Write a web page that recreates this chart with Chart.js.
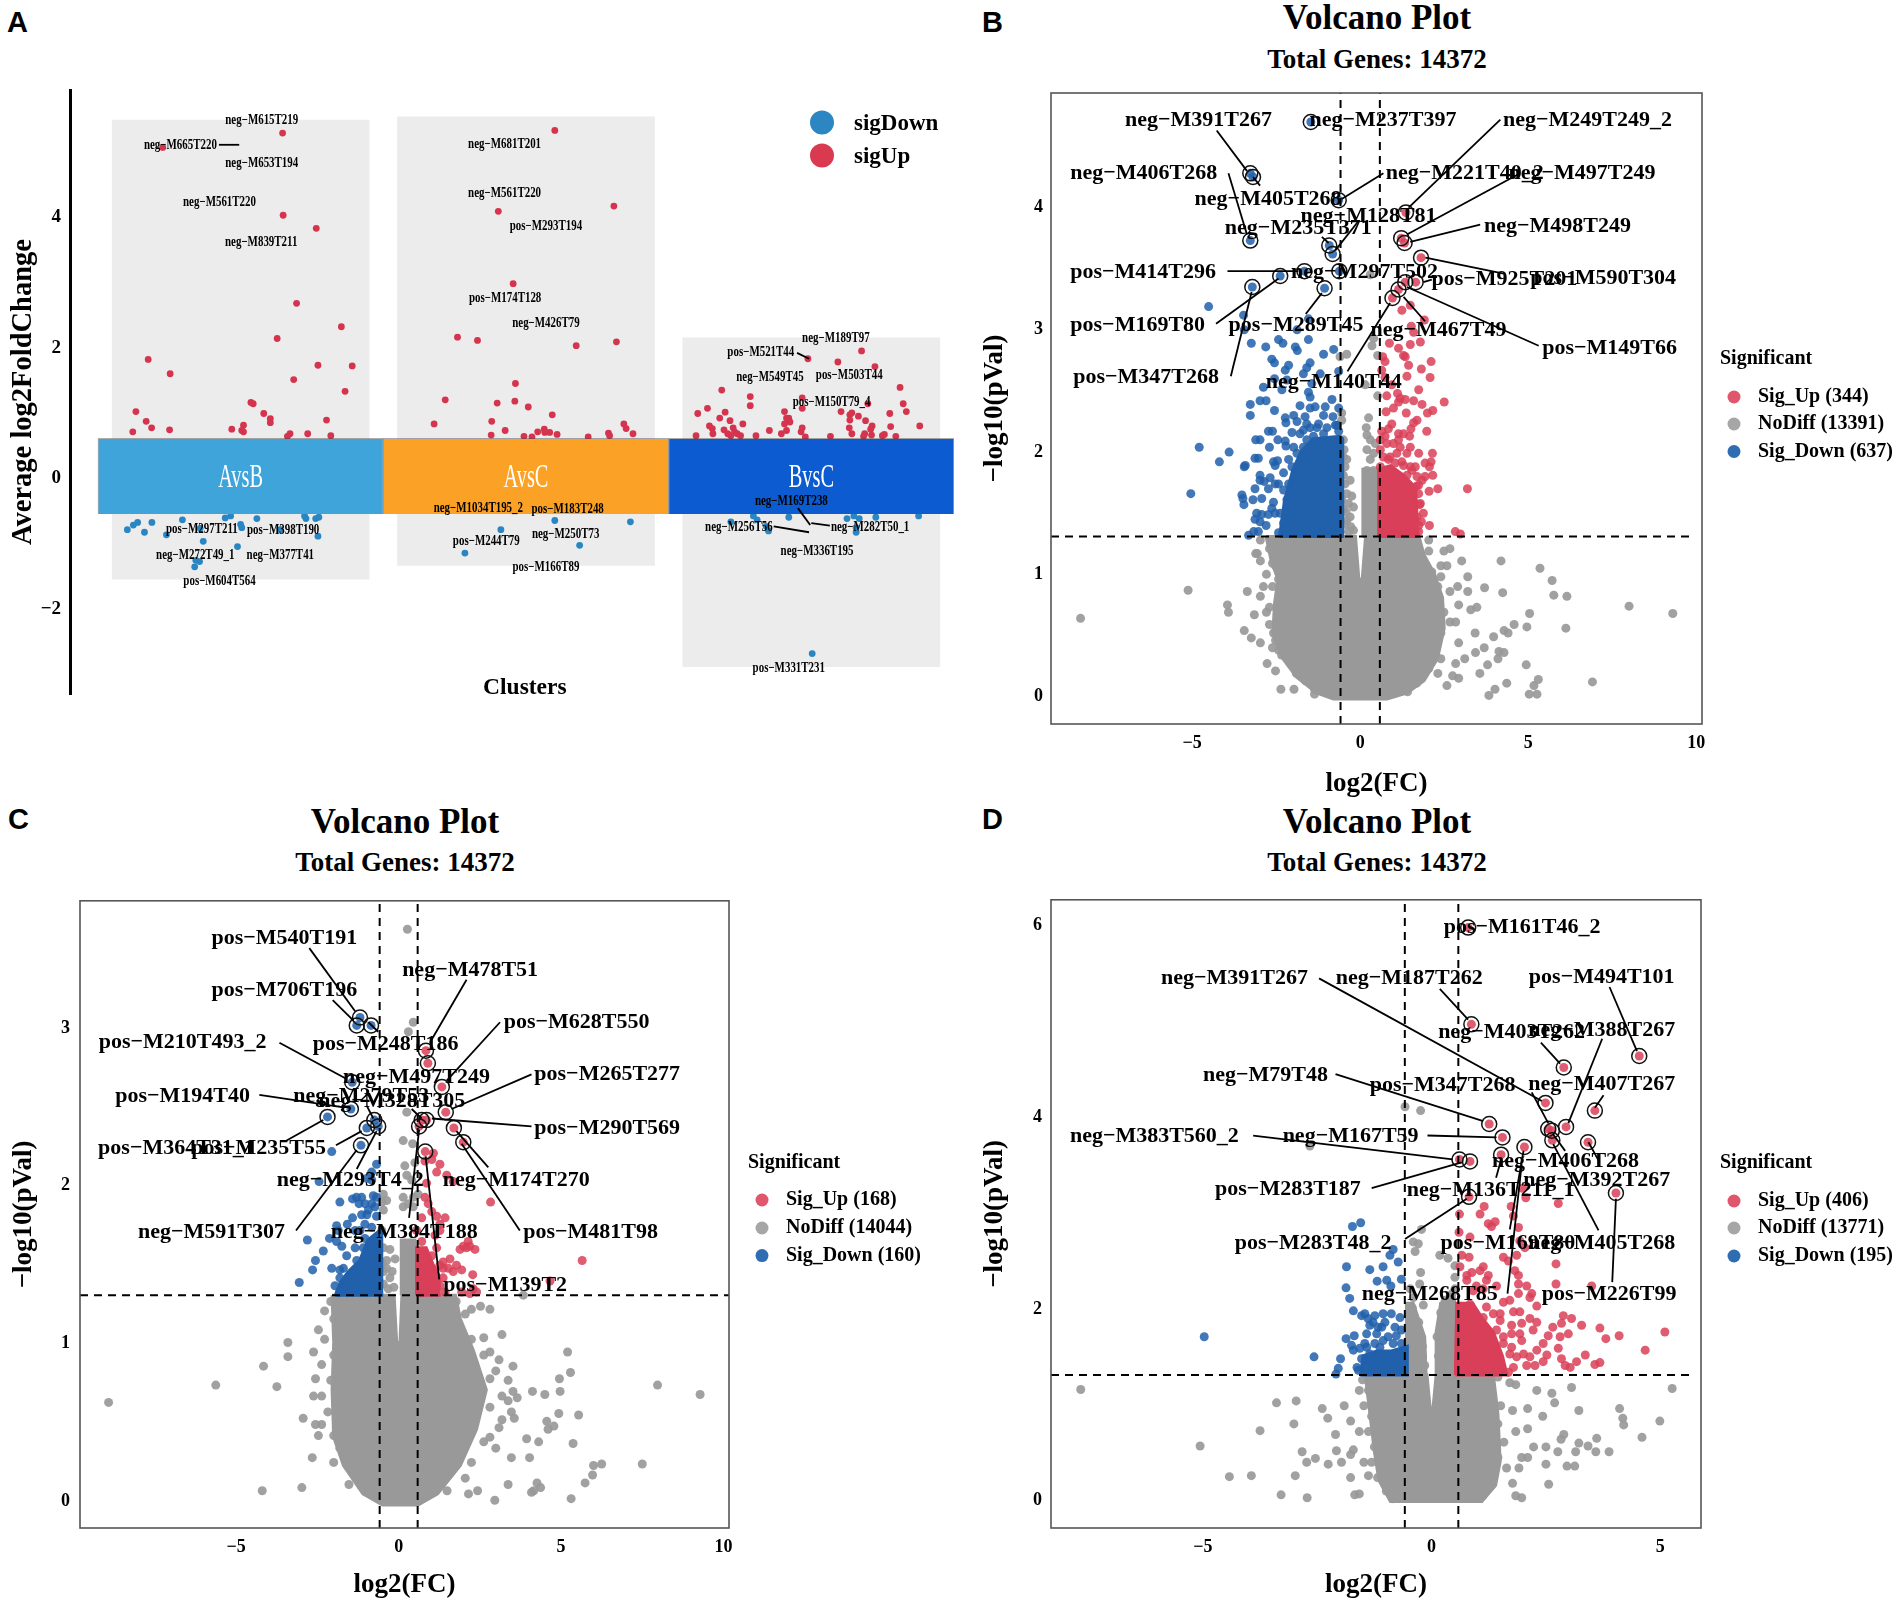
<!DOCTYPE html>
<html>
<head>
<meta charset="utf-8">
<title>Volcano plots</title>
<script src="https://cdn.jsdelivr.net/npm/chart.js@4"></script>
<style>
  html, body { margin: 0; padding: 0; background: #fff; }
  body { position: relative; width: 1902px; height: 1601px; overflow: hidden; font-family: "Liberation Serif", serif; }
  canvas { position: absolute; }
  .letter { position: absolute; font: bold 29px "Liberation Sans", sans-serif; color: #000; line-height: 1; }
  .head { position: absolute; transform: translate(-50%, -50%); white-space: nowrap; font-weight: bold; color: #000; }
  .t1 { font-size: 35px; }
  .t2 { font-size: 27px; }
</style>
</head>
<body>
<div class="letter" style="left:7px;top:8px">A</div>
<div class="letter" style="left:982px;top:8px">B</div>
<div class="letter" style="left:8px;top:805px">C</div>
<div class="letter" style="left:982px;top:805px">D</div>
<div class="head t1" style="left:1377px;top:18px">Volcano Plot</div>
<div class="head t2" style="left:1377px;top:59px">Total Genes: 14372</div>
<div class="head t1" style="left:405px;top:822px">Volcano Plot</div>
<div class="head t2" style="left:405px;top:862px">Total Genes: 14372</div>
<div class="head t1" style="left:1377px;top:822px">Volcano Plot</div>
<div class="head t2" style="left:1377px;top:862px">Total Genes: 14372</div>
<canvas id="panelA" width="960" height="700" style="left:0;top:60px"></canvas>
<canvas id="panelB" width="942" height="740" style="left:960px;top:60px"></canvas>
<canvas id="panelC" width="950" height="721" style="left:0;top:880px"></canvas>
<canvas id="panelD" width="942" height="721" style="left:960px;top:880px"></canvas>
<script>
// panel A, x is a jitter position: each cluster takes 100 units
const clusters = ["AvsB", "AvsC", "BvsC"];
const clusterMid = [50, 150, 250];
const clusterBg = [[-1.58, 5.46], [-1.37, 5.51], [-2.92, 2.12]];
const aTicks = [-2, 0, 2, 4];
const aUp = [[64.7,5.26],[22.7,5.04],[64.9,4],[76.5,3.8],[69.6,2.65],[85.3,2.29],[62.8,2.11],[17.6,1.79],[77.1,1.7],[89.1,1.69],[25.3,1.57],[68.6,1.48],[86.6,1.3],[53.6,1.13],[54.4,1.11],[13.3,.99],[58.1,.96],[60.4,.88],[60.4,.82],[80.1,.86],[16.9,.84],[18.8,.74],[51,.78],[46.9,.72],[50.4,.7],[51,.68],[25.1,.71],[12.2,.68],[73.5,.65],[67.3,.65],[66.4,.61],[81.6,.62],
  [160.1,5.3],[180.8,4.14],[140.3,4.06],[145.5,2.95],[126,2.13],[133,2.08],[181.7,2.06],[167.6,2],[146.3,1.42],[121.7,1.17],[139.9,1.12],[146.1,1.15],[150.8,1.06],[159.2,.94],[138,.84],[117.8,.8],[142.7,.7],[137.8,.63],[149.3,.61],[152.1,.6],[154.1,.68],[156.4,.72],[156.6,.67],[158.3,.67],[160.9,.64],[171.8,.6],[178.9,.66],[179.3,.62],[184.3,.8],[185.1,.73],[187.5,.65],
  [267.6,1.92],[248.8,1.8],[259.3,1.75],[272.3,1.68],[281.1,1.36],[218.6,1.32],[228.6,1.22],[228.6,1.08],[246.8,1.2],[246.8,1.04],[282.2,1.11],[283.3,.99],[213.6,1.04],[210.2,.96],[219.8,.98],[240.6,.99],[242.1,.89],[241.3,.89],[242.5,.83],[240.6,.8],[217.9,.89],[221.5,.85],[226,.8],[214.3,.77],[215.3,.73],[215.5,.65],[219.4,.71],[222.6,.74],[223.1,.68],[221.8,.62],[224,.65],[225.2,.62],[220.7,.65],[235.3,.7],[230.6,.62],[209.6,.62],[239.5,.65],[241.3,.7],[246.8,.74],[246.4,.68],[247.9,.6],[256.7,.61],[263.3,.74],[263.5,.94],[260.4,.99],[264.2,.97],[266.5,.92],[269,.85],[263.5,.86],[271.3,.77],[270.8,.72],[268.7,.65],[271.1,.63],[264.2,.65],[268.3,.61],[274.9,.62],[275.6,.64],[277.8,.76],[277.5,.96],[279.6,.61],[288,.77],[269.8,1.11]];
const aDown = [[10.3,-.82],[12.4,-.75],[13.9,-.71],[16.3,-.86],[18.9,-.71],[24,-.9],[29.6,-.67],[44.6,-.64],[46.5,-.61],[55.7,-.65],[50.4,-.79],[50,-.74],[63.9,-.82],[72.9,-.65],[72.4,-.61],[76.3,-.65],[77.4,-.63],[77.1,-.92],[36.9,-1],[48.9,-1.08],[34.3,-1.29],[35.6,-1.31],[33.9,-1.39],[35.8,-.8],
  [160.1,-.68],[186.6,-.7],[141.2,-.82],[168.8,-1.06],[128.6,-1.18],
  [221.8,-.7],[229.7,-.61],[231,-.67],[235,-.84],[234.2,-.77],[242.1,-.63],[262.5,-.65],[264.9,-.61],[266.8,-.65],[265.7,-.86],[272.6,-.63],[287.6,-.61],[250.3,-2.72],[265.7,-.79]];
const aLabels = [["neg−M615T219",57.4,5.46],["neg−M665T220",28.9,5.07],["neg−M653T194",57.4,4.8],["neg−M561T220",42.6,4.2],["neg−M839T211",57.2,3.58],["neg−M681T201",142.5,5.08],["neg−M561T220",142.5,4.34],["pos−M293T194",157,3.83],["pos−M174T128",142.7,2.73],["neg−M426T79",157,2.34],["neg−M189T97",258.6,2.11],["pos−M521T44",232.3,1.9],["neg−M549T45",235.5,1.51],["pos−M503T44",263.3,1.55],["pos−M150T79_4",257.1,1.13],["neg−M1034T195_2",133.3,-.49],["pos−M183T248",164.6,-.51],["neg−M169T238",243,-.39],["neg−M256T56",224.6,-.79],["neg−M282T50_1",270.6,-.78],["neg−M336T195",252,-1.16],["pos−M297T211",36.4,-.81],["pos−M398T190",64.9,-.83],["neg−M272T49_1",34.1,-1.22],["neg−M377T41",63.9,-1.22],["pos−M604T564",42.6,-1.61],["pos−M244T79",136.1,-1],["neg−M250T73",163.9,-.89],["pos−M166T89",157,-1.4],["pos−M331T231",242.1,-2.94]];
const aLeaders = [[42.4,5.08,49.5,5.08],[245,1.89,249.2,1.8],[245.3,-.49,249.6,-.75],[250,-.72,256.5,-.76],[236.8,-.77,249.2,-.86]];

// panel B
const bXTicks = [-5, 0, 5, 10];
const bYTicks = [0, 1, 2, 3, 4];
const bGray = [[-8.32,.63],[-5.12,.86],[-3.95,.74],[-3.92,.68],[-3.36,.85],[-3.45,.53],[-3.24,.47],[-3.15,.66],[-2.79,.68],[-3.06,1.16],[-2.97,1.1],[-2.52,1.06],[-2.88,.89],[-2.77,.26],[-2.52,.2],[-2.36,.05],[-1.97,.05],[-2.34,.33],[-2.97,.43],[-2.58,.51],[-2.61,.39],[-2.08,.26],[-1.36,.01],
  [4.19,1.1],[5.35,1.04],[5.71,.94],[5.76,.82],[6.15,.81],[4.24,.84],[3.7,.88],[8,.73],[9.3,.67],[5.04,.67],[6.12,.55],[4.96,.56],[4.58,.58],[4.28,.53],[4.4,.51],[4.13,.36],[4.28,.35],[3.97,.48],[3.42,.51],[3.69,.39],[3.43,.35],[3.79,.25],[4.1,.3],[4.94,.25],[5.3,.13],[5.17,.08],[6.91,.11],[5.03,.01],[5.26,.01],[3.83,0],[4.01,.05],[4.36,.1],[3.56,.18],[2.93,.14],[2.58,.08],[3.11,.3],[2.84,.26],[2.31,.18],[2.75,.16],[2.93,.43],[3.29,.7],[3.47,.72],[3.2,.97],[3.02,1.1],[2.67,1.2],[2.49,1.18],[2.93,.74],[2.84,.6],[2.58,1.06],[3.2,.85],[2.04,1.27],[2.4,.97],[2.67,.85],[2.9,.89],
  [-.4,2.79],[-.6,2.77],[-.55,2.31],[-.55,2.25],[-.5,2.09],[-.48,2.01],[-.4,1.93],[-.45,1.87],[-.3,1.76],[-.45,1.73],[-.4,1.65],[-.2,1.54],[-.35,1.57],[-.3,1.46],[-.4,1.43],[-.2,1.35],[-.35,1.34],[-.5,1.52],[-.25,1.63],[-.45,1.4],[-.55,1.6],[-.28,1.38],[-.5,1.8],[-.5,1.95],[-.42,1.5],
  [.4,2.92],[.35,2.86],[.52,2.78],[.15,2.54],[.52,2.45],[.25,2.27],[.18,2.19],[.2,2.13],[.3,2.09],[.45,2.06],[.2,2.01],[.4,1.98],[.3,1.93],[.2,1.84],[.4,1.84],[.3,3.44]];
const bGrayEdge = [[-2.97,1.27],[-2.7,1.2],[-3.11,1.16],[-2.61,1.08],[-2.79,.99],[-2.43,.95],[-2.97,.81],[-2.61,.89],[-2.7,.72],[-2.43,.64],[-2.7,.58],[-2.52,.45],[-2.16,.39],[-2.43,.37],[-1.99,.3],[-1.9,.18],[-1.63,.12],[-1.36,.05],
  [1.68,1.27],[2.04,1.18],[1.86,1.1],[2.13,1.01],[2.4,1.06],[2.31,.89],[2.22,.76],[2.49,.68],[2.67,.6],[2.4,.51],[2.22,.39],[2.4,.3],[2.04,.22],[1.68,.1],[1.41,.03]];
const bGrayCloud = [[-2.8,1.3],[-2.65,1.1],[-2.45,.95],[-2.55,.75],[-2.6,.5],[-2.3,.3],[-1.9,.15],[-1.3,.02],[-.8,-.03],[.8,-.03],[1.4,.02],[1.9,.12],[2.3,.3],[2.5,.55],[2.45,.8],[2.2,1],[1.9,1.15],[1.75,1.3],[.16,1.3],[.06,.95],[-.04,.95],[-.14,1.3],[-2.8,1.3]];
const bGrayStrip = [[.07,1.3],[.08,1.85],[.5,1.85],[.58,1.3],[.07,1.3]];
const bDown = [[-4.51,3.18],[-3.47,3.11],[-1.54,3.08],[-3.45,2.99],[-1.88,2.99],[-3.24,2.88],[-2.81,2.85],[-2.43,2.91],[-2.3,2.88],[-1.93,2.85],[-1.87,2.82],[-1.54,2.91],[-1.09,2.79],[-.79,2.83],[-2.63,2.75],[-2.55,2.72],[-1.49,2.72],[-1.59,2.68],[-2.13,2.7],[-2.23,2.66],[-1.69,2.63],[-1.19,2.63],[-.64,2.65],[-2.55,2.59],[-2.18,2.58],[-1.44,2.55],[-2.88,2.52],[-2.33,2.5],[-1.54,2.48],[-1.49,2.44],[-3.27,2.38],[-2.98,2.41],[-2.8,2.41],[-1.79,2.37],[-1.49,2.35],[-1.34,2.36],[-1.04,2.36],[-.84,2.42],[-.64,2.35],[-3.27,2.29],[-2.55,2.33],[-2.23,2.27],[-1.98,2.29],[-1.64,2.28],[-1.09,2.29],[-.81,2.28],[-2.21,2.23],[-1.88,2.24],[-1.59,2.22],[-1.24,2.22],[-.74,2.21],[-2.73,2.16],[-2.61,2.16],[-2.03,2.15],[-1.69,2.17],[-3.11,2.09],[-2.98,2.09],[-2.45,2.09],[-2.23,2.08],[-2.7,2.03],[-2.21,2.04],[-4.79,2.03],[-3.9,1.99],[-3.13,1.94],[-3.03,1.94],[-4.19,1.91],[-2.58,1.91],[-2.46,1.92],[-3.42,1.88],[-3.45,1.87],[-2.53,1.88],[-2.98,1.8],[-2.98,1.76],[-2.86,1.75],[-2.68,1.78],[-2.53,1.73],[-2.43,1.73],[-2.73,1.69],[-3.13,1.69],[-5.04,1.65],[-3.52,1.64],[-3.49,1.61],[-3.19,1.6],[-2.93,1.61],[-2.58,1.58],[-2.63,1.53],[-3.46,1.56],[-3.08,1.49],[-3.13,1.44],[-2.93,1.48],[-2.73,1.48],[-2.53,1.49],[-2.98,1.42],[-2.8,1.39],[-3.17,1.34],[-3.03,1.34],[-3.32,1.31],
  [-2.28,1.41],[-2.43,1.33],[-2.38,1.49],[-2.18,1.6],[-2.28,1.68],[-2.13,1.73],[-2.28,1.82],[-2.03,1.87],[-2.13,1.93],[-1.88,1.98],[-1.98,2.03],[-1.69,2.03],[-1.79,2.14],[-1.49,2.19],[-1.29,2.19],[-.99,2.19],[-.69,2.21],[-.64,2.16],[-1.39,2.12],[-1.09,2.14],[-1.59,2.09]];
const bDownCloud = [[-2.4,1.3],[-2.25,1.6],[-2,1.85],[-1.75,2],[-1.4,2.1],[-.6,2.12],[-.52,2.1],[-.52,1.3],[-2.4,1.3]];
const bDownHits = [[-1.47,4.69],[-3.27,4.27],[-3.19,4.24],[-.64,4.05],[-3.27,3.72],[-.92,3.68],[-.82,3.61],[-.62,3.47],[-1.66,3.47],[-2.38,3.43],[-3.21,3.34],[-1.06,3.33]];
const bUp = [[1.24,3.15],[1.49,3.19],[1.91,3.07],[1.52,3.02],[1.59,2.97],[.87,2.88],[1.14,2.84],[1.49,2.87],[1.79,2.89],[1.29,2.78],[1.34,2.77],[.67,2.77],[.74,2.73],[.64,2.66],[1.44,2.7],[2.11,2.73],[1.82,2.67],[.74,2.6],[1.39,2.61],[2.08,2.6],[.94,2.54],[1.74,2.5],[1.11,2.47],[.79,2.45],[1.19,2.43],[1.34,2.42],[1.14,2.4],[1.59,2.41],[1.84,2.38],[2.5,2.4],[.99,2.35],[.77,2.32],[1.37,2.31],[2.16,2.33],[2,2.31],[1.69,2.25],[1.59,2.23],[.94,2.22],[1.51,2.18],[.84,2.18],[.64,2.16],[1.98,2.16],[1.29,2.14],[.74,2.12],[.6,2.09],[1.14,2.09],[1.47,2.12],[.79,2.06],[1.19,2.03],[1.49,2.03],[1.09,1.98],[1.39,1.98],[2.15,1.98],[1.74,1.98],[2.11,1.91],[1.93,1.9],[1.24,1.91],[.84,1.93],[1.64,1.87],[2.06,1.87],[1.49,1.87],[2.16,1.8],[1.93,1.79],[1.84,1.76],[1.74,1.72],[2.31,1.69],[2.05,1.67],[3.19,1.69],[1.77,1.56],[1.82,1.42],[2.06,1.39],[2.83,1.34],[2.98,1.32],[1.88,1.49],[1.74,1.34],
  [.6,1.87],[.69,1.95],[.89,1.95],[1.04,1.9],[1.29,1.88],[1.54,1.84],[1.69,1.79],[1.39,1.8],[.99,2.06],[1.14,2.14],[.6,2.01],[1.74,1.65],[1.79,1.57],[1.69,1.46],[1.74,1.39],[1.59,1.33],[1.67,1.71]];
const bUpCloud = [[.55,1.3],[.55,1.85],[.9,1.88],[1.3,1.8],[1.65,1.7],[1.72,1.3],[.55,1.3]];
const bUpHits = [[1.36,3.95],[1.22,3.74],[1.32,3.7],[1.81,3.58],[1.65,3.38],[1.34,3.38],[1.14,3.32],[.96,3.25]];
const bLabels = [["neg−M391T267",-4.81,4.7],["neg−M237T397",.68,4.7],["neg−M249T249_2",6.76,4.7],["neg−M406T268",-6.44,4.27],["neg−M221T40_2",3.11,4.27],["neg−M497T249",6.6,4.27],["neg−M405T268",-2.74,4.06],["neg−M128T81",.25,3.92],["neg−M235T371",-1.84,3.82],["neg−M498T249",5.87,3.84],["pos−M414T296",-6.46,3.46],["neg−M297T502",.13,3.46],["pos−M925T201",4.29,3.4],["pos−M590T304",7.23,3.41],["pos−M169T80",-6.62,3.03],["pos−M289T45",-1.91,3.03],["neg−M467T49",2.33,2.99],["pos−M149T66",7.42,2.84],["pos−M347T268",-6.37,2.6],["neg−M140T44",-.79,2.56]];
const bLeaders = [[-4.27,4.62,-3.37,4.29],[-2.98,4.17,-3.19,4.24],[-3.92,4.27,-3.37,3.77],[.69,4.27,-.55,4.06],[4.17,4.71,1.44,3.99],[4.76,4.27,1.39,3.77],[3.57,3.85,1.49,3.71],[-.05,3.88,-.74,3.64],[-1.14,3.75,-.94,3.7],[-3.95,3.47,-1.84,3.47],[1.94,3.58,4.27,3.45],[1.88,3.38,2.13,3.4],[-4.29,3.04,-2.43,3.41],[-1.62,3.12,-1.14,3.29],[-3.85,2.61,-3.23,3.3],[1.93,3.06,1.29,3.26],[5.31,2.86,1.39,3.34],[-.38,2.65,.89,3.21]];
const bCounts = [344, 13391, 637];

// panel C
const cXTicks = [-5, 0, 5, 10];
const cYTicks = [0, 1, 2, 3];
const cGray = [[-8.93,.62],[-5.63,.73],[-3.75,.72],[-4.16,.85],[-4.2,.06],[-2.98,.08],[-3.41,1],[-3.41,.91],[-2.62,.94],[-2.56,.77],[-2.94,.52],[-2.66,.27],[-2.56,.48],[-2.47,.41],[-2.62,.66],[-2.28,1.2],[-2.47,1.08],[-2,.24],[-1.53,.1],
  [7.97,.73],[9.28,.67],[5.2,.94],[5.29,.81],[4.95,.77],[4.97,.69],[4.12,.69],[4.5,.67],[5.54,.54],[4.93,.55],[4.56,.5],[4.78,.47],[4.6,.45],[3.94,.39],[4.31,.37],[4.03,.27],[5.37,.36],[3.52,.69],[3.65,.65],[3.18,1.05],[2.62,1.03],[2.81,.94],[3.52,.85],[2.99,.82],[3.56,.52],[3.18,.51],[3.47,.27],[6.25,.23],[6,.22],[5.97,.16],[5.74,.11],[7.5,.23],[5.31,.01],[4.09,.05],[4.16,.06],[4.37,.08],[4.26,.11],[2.96,0],[3.37,.1],[2.43,.06],[2.15,.04],[2.81,1.21],[2.52,1.23],[2.24,1.21],[3.84,1.3],[3.09,.89],[3.37,.76],
  [.27,3.62],[.45,3.03],[.3,2.97],[.25,2.46],[.14,2.28],[.43,2.26],[.19,2.12],[.5,2.14],[.25,2.06],[.4,2.03],[.14,1.92],[.45,1.92],[.6,1.94],[-.47,1.94],[-.37,1.9],[-.52,1.89],[.14,1.86],[.3,1.88],[.45,1.86],[-.47,1.84],[-.52,1.71],[-.47,1.6],[-.27,1.59],[-.37,1.52],[-.11,1.53],[-.37,1.47],[-.47,1.37],[-.27,1.41],[-.32,1.34],[-.5,1.5],[-.2,1.45],[-.15,1.35],[-.47,1.45]];
const cGrayEdge = [[-2.09,1.26],[-2,1.15],[-2.28,1.02],[-2,.92],[-2.37,.86],[-2.09,.76],[-2.37,.66],[-2.18,.56],[-2.37,.48],[-2,.41],[-1.81,.33],[-1.53,.25],[-1.34,.17],[-1.15,.09],
  [1.77,1.26],[2.05,1.18],[1.86,1.08],[2.24,1.02],[2.62,.92],[2.34,.86],[2.81,.77],[3.18,.66],[2.81,.59],[3.37,.63],[3.09,.46],[2.62,.37],[2.24,.24],[2.05,.14],[1.49,.06],[2.81,.4],[3.47,.56],[2.99,.33]];
const cGrayCloud = [[-2.05,1.3],[-2,1],[-2.05,.7],[-2,.4],[-1.7,.22],[-1.1,.04],[-.5,-.03],[.6,-.03],[1.2,.04],[1.9,.22],[2.4,.45],[2.7,.7],[2.3,.95],[1.9,1.15],[1.75,1.3],[.1,1.3],[.04,1],[-.06,1],[-.14,1.3],[-2.05,1.3]];
const cGrayStrip = [[.08,1.3],[.08,1.65],[.5,1.65],[.58,1.3],[.08,1.3]];
const cDown = [[-2.06,2.21],[-.68,2.13],[-.83,2.08],[-2.45,2.02],[-.98,2.04],[-.83,2.03],[-.78,1.93],[-.68,1.92],[-1.81,1.89],[-1.42,1.91],[-1.3,1.92],[-1.14,1.92],[-1.22,1.88],[-1.04,1.88],[-.83,1.88],[-.93,1.84],[-.73,1.86],[-1.42,1.79],[-1.14,1.81],[-.98,1.81],[-1.04,1.75],[-1.58,1.75],[-1.91,1.74],[-1.34,1.71],[-1.19,1.71],[-1.86,1.71],[-2.81,1.65],[-2.13,1.66],[-1.91,1.64],[-1.75,1.61],[-2.32,1.58],[-2.56,1.52],[-2.65,1.46],[-2.06,1.47],[-3.06,1.38],[-1.81,1.46],
  [-1.96,1.36],[-1.81,1.41],[-1.7,1.47],[-1.81,1.32],[-1.6,1.55],[-1.34,1.6],[-1.04,1.66],[-1.09,1.6],[-.83,1.73],[-.68,1.8],[-.63,1.64],[-1.29,1.52]];
const cDownCloud = [[-1.95,1.3],[-1.8,1.38],[-1.55,1.45],[-1.2,1.52],[-.95,1.65],[-.52,1.72],[-.52,1.3],[-1.95,1.3]];
const cDownHits = [[-1.19,3.06],[-1.29,3.01],[-.85,3.01],[-1.43,2.65],[-1.47,2.48],[-2.19,2.43],[-.75,2.41],[-.98,2.36],[-.63,2.37],[-1.16,2.25]];
const cUp = [[1.07,2.2],[1.27,2.13],[1.02,2.16],[.81,2.15],[1.48,2.06],[1.17,2.08],[.86,2.01],[1.68,2.02],[.81,1.92],[.91,1.88],[2.83,1.89],[1.02,1.83],[1.17,1.8],[1.43,1.79],[.71,1.79],[1.27,1.75],[1.27,1.71],[2.14,1.64],[1.99,1.61],[2.19,1.61],[1.89,1.59],[2.35,1.59],[2.09,1.6],[1.58,1.53],[1.37,1.51],[1.78,1.49],[1.94,1.46],[5.65,1.52],[2.28,1.43],[4.66,1.39],[2.3,1.34],[2.19,1.31],[1.94,1.32],[2.4,1.32],[1.37,1.41],[1.68,1.45],[1.53,1.47],
  [1.17,1.6],[1.02,1.55],[1.27,1.49],[.71,1.64],[1.37,1.47],[1.27,1.36],[1.43,1.32],[.55,1.71],[1.12,1.68]];
const cUpCloud = [[.55,1.3],[.55,1.6],[.85,1.6],[1.05,1.5],[1.25,1.42],[1.25,1.3],[.55,1.3]];
const cUpHits = [[.84,2.85],[.9,2.77],[1.33,2.62],[1.45,2.46],[.86,2.41],[.71,2.41],[.63,2.37],[1.7,2.36],[1.99,2.27],[.82,2.21]];
const cLabels = [["pos−M540T191",-3.52,3.56],["neg−M478T51",2.2,3.36],["pos−M706T196",-3.52,3.23],["pos−M628T550",5.48,3.03],["pos−M210T493_2",-6.65,2.9],["pos−M248T186",-.4,2.89],["neg−M497T249",.55,2.68],["pos−M265T277",6.42,2.7],["pos−M194T40",-6.65,2.56],["neg−M279T53",-1.15,2.56],["neg−M328T305",-.21,2.53],["pos−M290T569",6.42,2.36],["pos−M364T31_1",-6.84,2.23],["pos−M235T55",-4.31,2.23],["neg−M293T4_2",-1.49,2.03],["neg−M174T270",3.62,2.03],["neg−M591T307",-5.76,1.7],["neg−M384T188",.17,1.7],["pos−M481T98",5.91,1.7],["pos−M139T2",3.28,1.36]];
const cLeaders = [[-2.75,3.5,-1.34,3.1],[-2.03,3.17,-1.39,3.04],[-.63,2.97,-.93,3.03],[2.09,3.3,.96,2.9],[3.12,3.03,1.48,2.66],[-3.67,2.9,-1.6,2.67],[4.09,2.7,1.63,2.48],[-4.29,2.57,-1.7,2.49],[4.09,2.37,1.02,2.42],[-3.45,2.28,-2.32,2.41],[-1.93,2.25,-1.14,2.34],[-1.29,2.1,-.68,2.34],[-3.16,1.71,-1.29,2.22],[2.76,2.11,1.78,2.34],[3.73,1.71,1.94,2.26],[.32,1.79,.63,2.35],[1.25,1.4,.83,2.18],[-.98,2.5,-.78,2.42],[.4,2.48,.71,2.42]];
const cCounts = [168, 14044, 160];

// panel D
const dXTicks = [-5, 0, 5];
const dYTicks = [0, 2, 4, 6];
const dGray = [[-7.67,1.15],[-5.06,.56],[-4.42,.24],[-3.94,.25],[-3.75,.72],[-3.39,1.01],[-2.96,1.03],[-3.01,.79],[-2.83,.5],[-2.73,.39],[-2.54,.43],[-2.98,.25],[-3.29,.05],[-2.72,.02],[-2.39,.95],[-2.27,.85],[-2.1,.68],[-2.08,.51],[-2.26,.37],[-1.71,.52],[-1.77,.47],[-1.97,.39],[-1.77,.23],[-1.68,.05],[-1.58,.06],[-1.38,.25],[-1.48,.39],[-1.77,.82],[-1.91,.98],[-1.58,.71],[-1.58,1.14],
  [5.26,1.16],[4.11,.95],[4.18,.85],[4.2,.78],[4.99,.82],[4.6,.65],[3.61,.64],[3.22,.93],[2.69,1.01],[3.06,1.17],[2.3,1.14],[2.63,1.11],[2.1,.95],[1.84,1.2],[1.71,1.22],[2.1,.74],[2.43,.87],[2.89,.68],[2.83,.63],[3.22,.59],[3.42,.56],[3.59,.5],[3.88,.5],[3.15,.5],[2.76,.5],[2.5,.55],[2.23,.55],[2.5,.37],[2.96,.35],[3.13,.35],[2.56,.16],[1.97,.44],[1.91,.33],[1.97,.02],[1.84,.04],[2.1,.44],[1.77,.93],[1.84,.71],
  [-.58,4.1],[-.24,4.06],[-.22,2.82],[-.4,2.69],[-.29,2.67],[-.36,2.59],[.18,2.55],[.36,2.52],[.51,2.44],[-.24,2.37],[.51,2.32],[-.26,2.25],[-.47,2.2],[.26,2.03],[-.18,2.03],[-.4,2.11],[.51,2.2],[-2.66,3.69],[.4,2.11],[-.15,1.4],[-.2,1.6],[-.28,1.85],[-.42,2],[-.2,1.5],[.15,1.5],[.12,1.7],[.2,1.95],[.3,2.08],[.45,2.15]];
const dGrayEdge = [[-1.51,1.25],[-1.38,1.14],[-1.48,.98],[-1.31,.87],[-1.38,.71],[-1.25,.55],[-1.31,.39],[-1.18,.23],[-.99,.09],[-.85,.01],
  [1.45,1.28],[1.31,1.11],[1.51,.98],[1.45,.79],[1.58,.6],[1.45,.44],[1.64,.33],[1.31,.15],[1.12,.04],[1.77,.17]];
const dGrayCloud = [[-1.45,1.3],[-1.35,.9],[-1.25,.5],[-1.15,.2],[-.9,-.02],[1.1,-.02],[1.4,.15],[1.5,.4],[1.45,.9],[1.35,1.3],[.1,1.3],[.02,.9],[-.02,.9],[-.1,1.3],[-1.45,1.3]];
const dGrayLeft = [[-.55,1.3],[-.55,2.05],[-.4,2.05],[-.15,1.7],[-.12,1.3],[-.55,1.3]];
const dGrayRight = [[.1,1.3],[.1,1.75],[.2,2.05],[.5,2.1],[.55,1.3],[.1,1.3]];
const dDown = [[-1.55,2.89],[-1.73,2.85],[-.84,2.61],[-.91,2.55],[-.73,2.48],[-1.86,2.43],[-1.35,2.4],[-1.06,2.43],[-1.19,2.28],[-.98,2.29],[-.66,2.3],[-.89,2.23],[-1.87,2.21],[-1.79,2.1],[-1.71,1.97],[-1.46,1.94],[-1.39,1.89],[-1.24,1.92],[-1.06,1.94],[-.88,1.94],[-.69,1.9],[-1.35,1.82],[-1.17,1.8],[-1.02,1.85],[-.8,1.8],[-.66,1.77],[-1.69,1.71],[-1.87,1.68],[-1.42,1.73],[-1.2,1.73],[-.77,1.71],[-1.75,1.61],[-1.46,1.63],[-2.57,1.49],[-1.99,1.47],[-2.04,1.37],[-1.71,1.56],[-1.63,1.38],[-2.09,1.31],[-4.97,1.7],
  [-1.57,1.58],[-1.42,1.59],[-1.24,1.63],[-1.06,1.66],[-.84,1.63],[-.66,1.63],[-1.53,1.47],[-1.6,1.35],[-1.35,1.52],[-1.13,1.59],[-.95,1.7],[-1.53,1.92],[-1.28,1.85],[-1.09,1.8]];
const dDownCloud = [[-1.55,1.3],[-1.5,1.5],[-1.2,1.55],[-.9,1.55],[-.53,1.6],[-.53,1.3],[-1.55,1.3]];
const dUp = [[2.06,3.15],[1.99,3.25],[2.77,3.09],[1.15,3.06],[1.74,3.06],[1.79,2.96],[1.06,2.98],[.61,2.98],[1.24,2.88],[1.39,2.9],[1.31,2.85],[1.9,2.84],[.6,2.79],[.84,2.74],[1.93,2.7],[2.04,2.63],[.66,2.55],[.82,2.53],[1.57,2.53],[1.86,2.55],[1.68,2.49],[2.72,2.46],[1.13,2.43],[.88,2.37],[1.82,2.39],[1.9,2.34],[1.24,2.34],[.77,2.34],[2.72,2.25],[3.5,2.23],[2.08,2.23],[1.42,2.23],[.98,2.23],[1.9,2.25],[2.19,2.15],[1.9,2.15],[2.15,2.11],[1.71,2.08],[1.57,2.06],[2.3,2.02],[1.79,1.96],[1.93,1.96],[1.5,1.94],[2.88,1.92],[3.06,1.89],[2.15,1.89],[2.3,1.85],[2.84,1.84],[1.75,1.82],[1.97,1.84],[3.28,1.82],[3.68,1.79],[2.65,1.8],[3.81,1.68],[4.1,1.71],[5.1,1.75],[4.67,1.56],[2.99,1.73],[2.81,1.7],[2.55,1.71],[2.44,1.63],[2.77,1.58],[3.36,1.51],[1.93,1.73],[2.22,1.77],[2.01,1.52],[2.15,1.49],[2.3,1.56],[2.52,1.51],[2.84,1.47],[3.17,1.44],[3.68,1.43],[3.57,1.41],[2.92,1.4],[3.03,1.38],[2.44,1.44],[2.08,1.4],[2.26,1.4],[1.97,1.66],[1.86,1.49],[1.75,1.73],[1.57,1.7],[1.75,1.59],
  [.62,2.43],[.77,2.29],[1.06,2.39],[1.2,2.29],[1.13,2.2],[.91,2.18],[.84,2.04],[1.2,2.01],[1.13,1.9],[1.5,1.87],[1.42,1.77],[1.57,1.63],[1.71,1.52],[1.79,1.38],[1.68,1.33],[1.35,1.94]];
const dUpCloud = [[.52,1.3],[.55,2.05],[.9,2.05],[1.1,1.9],[1.35,1.75],[1.55,1.5],[1.65,1.3],[.52,1.3]];
const dUpHits = [[.8,5.97],[.87,4.96],[4.54,4.63],[2.89,4.51],[2.49,4.14],[3.57,4.06],[1.26,3.92],[2.94,3.89],[2.55,3.87],[2.63,3.85],[2.64,3.75],[3.42,3.73],[1.55,3.78],[2.03,3.68],[1.52,3.6],[.61,3.55],[.84,3.53],[4.03,3.2],[.82,3.16]];
const dLabels = [["pos−M161T46_2",1.98,5.97],["neg−M391T267",-4.31,5.44],["neg−M187T262",-.49,5.44],["pos−M494T101",3.72,5.45],["neg−M403T262",1.75,4.88],["neg−M388T267",3.72,4.9],["neg−M79T48",-3.63,4.43],["pos−M347T268",.24,4.32],["neg−M407T267",3.72,4.33],["neg−M383T560_2",-6.06,3.79],["neg−M167T59",-1.77,3.79],["neg−M406T268",2.93,3.53],["neg−M392T267",3.61,3.33],["pos−M283T187",-3.14,3.24],["neg−M136T211_1",1.29,3.23],["pos−M283T48_2",-2.59,2.68],["pos−M169T80",1.67,2.68],["neg−M405T268",3.72,2.68],["neg−M268T85",-.04,2.14],["pos−M226T99",3.88,2.14]];
const dLeaders = [[-2.46,5.44,2.41,4.16],[.18,5.33,.8,5.01],[3.89,5.35,4.49,4.68],[2.39,4.77,2.81,4.55],[3.73,4.81,2.99,3.93],[-2.1,4.44,1.13,3.95],[2.19,4.25,2.55,3.93],[3.76,4.22,3.57,4.09],[-3.9,3.8,.46,3.55],[-.09,3.8,1.42,3.78],[-1.31,3.25,.66,3.52],[-.58,2.72,.77,3.14],[1.41,3.36,1.52,3.55],[1.71,2.82,2.01,3.64],[1.66,2.15,1.97,3.5],[3.65,2.81,2.66,3.71],[3.43,3.73,3.65,3.54],[3.95,2.27,4.03,3.14],[2.66,3.81,2.92,3.64]];
const dCounts = [406, 13771, 195];

const legendNames = ["Sig_Up", "NoDiff", "Sig_Down"];
const cutFC = 0.585;
const cutP = 1.3;

const RED = "#d93f58", BLUE = "#2160ab", GRAY = "#999999";
const REDA = "rgba(217,63,88,0.85)", BLUEA = "rgba(33,96,171,0.85)", GRAYA = "rgba(153,153,153,0.92)";

Chart.defaults.font.family = '"Liberation Serif", serif';
Chart.defaults.color = "#000";
Chart.defaults.animation = false;

const minusTick = v => String(v).replace("-", "\u2212");
const fixedTicks = list => s => { s.ticks = list.map(v => ({ value: v })); };

function dots(data, color, order, r) {
  return { type: "scatter", data: data, backgroundColor: color, borderWidth: 0, pointRadius: r, order: order };
}
function cloud(data, color, order) {
  return { type: "scatter", data: data, showLine: true, fill: "shape", backgroundColor: color, borderColor: color, borderWidth: 3, pointRadius: 0, order: order };
}
function rings(data) {
  return { type: "scatter", data: data, backgroundColor: "transparent", borderColor: "#111", borderWidth: 1.5, pointRadius: 7.5, order: 1 };
}
function dashed(a, b) {
  return { type: "scatter", data: [a, b], showLine: true, pointRadius: 0, borderColor: "#000", borderWidth: 2, borderDash: [8, 6], order: 2 };
}

// labels and leader lines, positioned with the chart's scales
function labelPlugin(labels, leaders, drawText) {
  return {
    id: "labels",
    afterDatasetsDraw(chart) {
      const { ctx, scales: { x, y } } = chart;
      ctx.save();
      ctx.strokeStyle = "#000";
      ctx.lineWidth = 1.8;
      leaders.forEach(l => {
        ctx.beginPath();
        ctx.moveTo(x.getPixelForValue(l[0]), y.getPixelForValue(l[1]));
        ctx.lineTo(x.getPixelForValue(l[2]), y.getPixelForValue(l[3]));
        ctx.stroke();
      });
      ctx.fillStyle = "#000";
      ctx.textAlign = "center";
      ctx.textBaseline = "middle";
      labels.forEach(t => drawText(ctx, t[0], x.getPixelForValue(t[1]), y.getPixelForValue(t[2])));
      ctx.restore();
    }
  };
}

function volcano(id, p) {
  const box = p.box, cv = document.getElementById(id);
  const frame = {
    id: "frame",
    afterDatasetsDraw(chart) {
      const { ctx, chartArea: a } = chart;
      ctx.save();
      ctx.strokeStyle = "#555";
      ctx.lineWidth = 1.6;
      ctx.strokeRect(a.left, a.top, a.right - a.left, a.bottom - a.top);
      ctx.restore();
    }
  };
  const legend = {
    id: "sideLegend",
    afterDraw(chart) {
      const ctx = chart.ctx;
      ctx.save();
      ctx.fillStyle = "#000";
      ctx.textAlign = "left";
      ctx.textBaseline = "middle";
      ctx.font = 'bold 20px "Liberation Serif"';
      ctx.fillText("Significant", p.legendX, p.legendTitleY);
      legendNames.forEach((n, i) => {
        ctx.beginPath();
        ctx.fillStyle = ["#e0566c", "#a6a6a6", "#2f6db3"][i];
        ctx.arc(p.legendX + 14, p.legendY[i], 6.5, 0, Math.PI * 2);
        ctx.fill();
        ctx.fillStyle = "#000";
        ctx.fillText(n + " (" + p.counts[i] + ")", p.legendX + 38, p.legendY[i]);
      });
      ctx.restore();
    }
  };
  const datasets = [
    cloud(p.grayClouds[0], GRAY, 20)
  ];
  p.grayClouds.slice(1).forEach(g => datasets.push(cloud(g, GRAY, 19)));
  datasets.push(
    dots(p.gray, GRAYA, 18, 4.5),
    cloud(p.downCloud, BLUE, 12),
    cloud(p.upCloud, RED, 11),
    dots(p.down, BLUEA, 10, 4.5),
    dots(p.up, REDA, 9, 4.5),
    dots(p.downHits, BLUEA, 8, 4.5),
    dots(p.upHits, REDA, 7, 4.5),
    dashed([-cutFC, p.yMin], [-cutFC, p.yMax]),
    dashed([cutFC, p.yMin], [cutFC, p.yMax]),
    dashed([p.xMin, cutP], [p.xEnd, cutP]),
    rings(p.downHits),
    rings(p.upHits)
  );
  return new Chart(cv, {
    type: "scatter",
    data: { datasets: datasets },
    options: {
      responsive: false,
      events: [],
      layout: { autoPadding: false, padding: { top: box.top, right: box.right, left: 0, bottom: 0 } },
      plugins: { legend: { display: false }, tooltip: { enabled: false } },
      scales: {
        x: {
          type: "linear", min: p.xMin, max: p.xMax,
          afterBuildTicks: fixedTicks(p.xTicks),
          afterFit: s => { s.height = box.bottom; },
          grid: { display: false, drawTicks: false }, border: { display: false },
          ticks: { padding: 9, maxRotation: 0, autoSkip: false, callback: minusTick, font: { size: 18, weight: "bold" } },
          title: { display: true, text: "log2(FC)", padding: { top: p.xTitlePad, bottom: 0 }, font: { size: 27, weight: "bold" } }
        },
        y: {
          type: "linear", min: p.yMin, max: p.yMax,
          afterBuildTicks: fixedTicks(p.yTicks),
          afterFit: s => { s.width = box.left; },
          grid: { display: false, drawTicks: false }, border: { display: false },
          ticks: { padding: p.yTickPad, labelOffset: 1, autoSkip: false, callback: minusTick, font: { size: 18, weight: "bold" } },
          title: { display: true, text: "\u2212log10(pVal)", padding: { top: p.yTitlePad, bottom: 0 }, font: { size: 27, weight: "bold" } }
        }
      }
    },
    plugins: [frame, labelPlugin(p.labels, p.leaders, (ctx, s, x, y) => {
      ctx.font = 'bold 22px "Liberation Serif"';
      ctx.fillText(s, x, y);
    }), legend]
  });
}

volcano("panelB", {
  box: { top: 33, right: 200, left: 91, bottom: 76 }, xMin: -9.2, xMax: 10.17, xEnd: 9.9, yMin: -0.234, yMax: 4.927, xTicks: bXTicks, yTicks: bYTicks,
  xTitlePad: 6, yTitlePad: 19, yTickPad: 8,
  gray: bGray.concat(bGrayEdge), grayClouds: [bGrayCloud, bGrayStrip], down: bDown, downCloud: bDownCloud, downHits: bDownHits, up: bUp, upCloud: bUpCloud, upHits: bUpHits,
  labels: bLabels, leaders: bLeaders, counts: bCounts, legendX: 760, legendTitleY: 299, legendY: [337, 364, 391.5]
});
volcano("panelC", {
  box: { top: 18, right: 221, left: 80, bottom: 73 }, xMin: -9.81, xMax: 10.17, xEnd: 10.17, yMin: -0.176, yMax: 3.8, xTicks: cXTicks, yTicks: cYTicks,
  xTitlePad: 4, yTitlePad: 8, yTickPad: 10,
  gray: cGray.concat(cGrayEdge), grayClouds: [cGrayCloud, cGrayStrip], down: cDown, downCloud: cDownCloud, downHits: cDownHits, up: cUp, upCloud: cUpCloud, upHits: cUpHits,
  labels: cLabels, leaders: cLeaders, counts: cCounts, legendX: 748, legendTitleY: 282.5, legendY: [320, 348, 375.6]
});
volcano("panelD", {
  box: { top: 19, right: 201, left: 91, bottom: 73 }, xMin: -8.32, xMax: 5.89, xEnd: 5.7, yMin: -0.296, yMax: 6.26, xTicks: dXTicks, yTicks: dYTicks,
  xTitlePad: 4, yTitlePad: 19, yTickPad: 9,
  gray: dGray.concat(dGrayEdge), grayClouds: [dGrayCloud, dGrayLeft, dGrayRight], down: dDown, downCloud: dDownCloud, downHits: [], up: dUp, upCloud: dUpCloud, upHits: dUpHits,
  labels: dLabels, leaders: dLeaders, counts: dCounts, legendX: 760, legendTitleY: 283, legendY: [321, 348, 376]
});

// panel A
const condensed = (ctx, s, x, y, font, sx) => {
  ctx.save();
  ctx.translate(x, y);
  ctx.scale(sx, 1);
  ctx.font = font;
  ctx.fillText(s, 0, 0);
  ctx.restore();
};
const aText = {
  id: "aText",
  afterDatasetsDraw(chart) {
    const { ctx, scales: { x, y } } = chart;
    ctx.save();
    ctx.textAlign = "center";
    ctx.textBaseline = "middle";
    ctx.fillStyle = "#fff";
    clusters.forEach((c, i) => condensed(ctx, c, x.getPixelForValue(clusterMid[i]), y.getPixelForValue(0) + 2, '34px "Liberation Serif"', 0.6));
    ctx.fillStyle = "#000";
    ctx.font = 'bold 23.5px "Liberation Serif"';
    ctx.fillText("Clusters", x.getPixelForValue(149.6), y.getPixelForValue(-3.25));
    ctx.restore();
  }
};
const aLegend = {
  id: "aLegend",
  afterDraw(chart) {
    const ctx = chart.ctx;
    ctx.save();
    ctx.textBaseline = "middle";
    ctx.font = 'bold 23px "Liberation Serif"';
    ["sigDown", "sigUp"].forEach((n, i) => {
      ctx.fillStyle = ["#2b86c1", "#d93a50"][i];
      ctx.beginPath();
      ctx.arc(822, 62.6 + i * 33, 12, 0, Math.PI * 2);
      ctx.fill();
      ctx.fillStyle = "#000";
      ctx.fillText(n, 854, 63.6 + i * 33);
    });
    ctx.restore();
  }
};
const bandColors = ["#3fa4da", "#fba226", "#0c5bd0"];
new Chart(document.getElementById("panelA"), {
  type: "bar",
  data: {
    datasets: [
      { data: clusterMid.map((m, i) => ({ x: m, y: clusterBg[i] })), backgroundColor: "#ececec", barThickness: 257, grouped: false, order: 10 },
      { type: "scatter", data: aUp, backgroundColor: "#d5344e", borderWidth: 0, pointRadius: 3.4, order: 5 },
      { type: "scatter", data: aDown, backgroundColor: "#2a86c2", borderWidth: 0, pointRadius: 3.4, order: 4 },
      { data: clusterMid.map(m => ({ x: m, y: [-0.58, 0.58] })), backgroundColor: bandColors, borderColor: "rgba(70,70,70,0.45)", borderWidth: 1, barThickness: 285.33, grouped: false, order: 1 }
    ]
  },
  options: {
    responsive: false,
    events: [],
    layout: { autoPadding: false, padding: { top: 30, right: 6, left: 0, bottom: 66 } },
    plugins: { legend: { display: false }, tooltip: { enabled: false } },
    scales: {
      x: { type: "linear", min: -9.8, max: 300, offset: false, display: false, grid: { display: false } },
      y: {
        type: "linear", min: -3.34, max: 5.92,
        afterBuildTicks: fixedTicks(aTicks),
        afterFit: s => { s.width = 70; },
        grid: { display: false, drawTicks: false },
        border: { display: true, color: "#000", width: 3 },
        ticks: { padding: 9, labelOffset: 2, autoSkip: false, callback: minusTick, font: { size: 19, weight: "bold" } },
        title: { display: true, text: "Average log2FoldChange", padding: { top: 7, bottom: 0 }, font: { size: 28.5, weight: "bold" } }
      }
    }
  },
  plugins: [labelPlugin(aLabels, aLeaders, (ctx, s, x, y) => condensed(ctx, s, x, y, 'bold 14px "Liberation Serif"', 0.78)), aText, aLegend]
});
</script>
</body>
</html>
